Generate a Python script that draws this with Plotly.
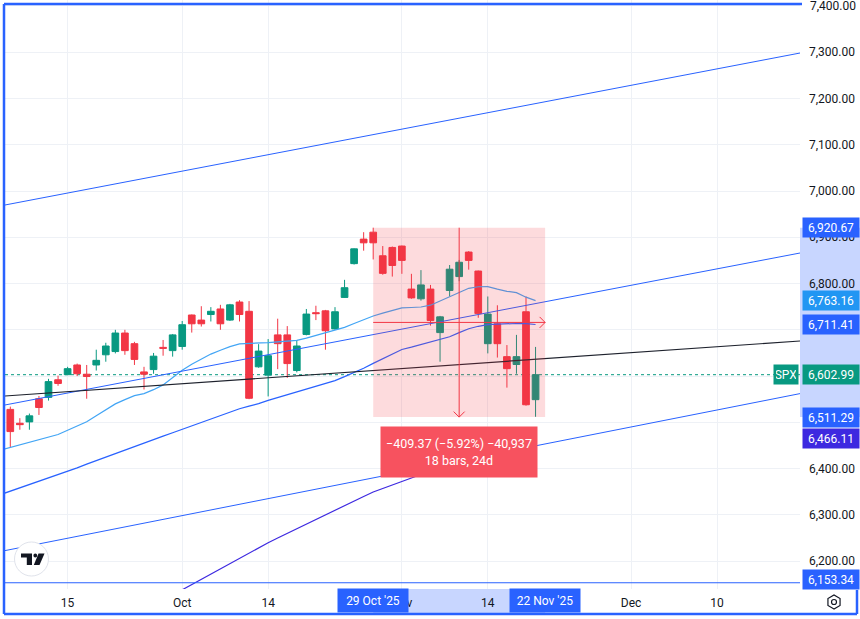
import math
import plotly.graph_objects as go

# ---------------- data (daily bars, SPX) ----------------
dates = ["Sep 5", "Sep 8", "Sep 9", "Sep 10", "Sep 11", "Sep 12", "Sep 15", "Sep 16", "Sep 17", "Sep 18",
         "Sep 19", "Sep 22", "Sep 23", "Sep 24", "Sep 25", "Sep 26", "Sep 29", "Sep 30", "Oct 1", "Oct 2",
         "Oct 3", "Oct 6", "Oct 7", "Oct 8", "Oct 9", "Oct 10", "Oct 13", "Oct 14", "Oct 15", "Oct 16",
         "Oct 17", "Oct 20", "Oct 21", "Oct 22", "Oct 23", "Oct 24", "Oct 27", "Oct 28", "Oct 29", "Oct 30",
         "Oct 31", "Nov 3", "Nov 4", "Nov 5", "Nov 6", "Nov 7", "Nov 10", "Nov 11", "Nov 12", "Nov 13",
         "Nov 14", "Nov 17", "Nov 18", "Nov 19", "Nov 20", "Nov 21"]
opens = [6528, 6498, 6501, 6551, 6554, 6592, 6603, 6624, 6604, 6624,
         6646, 6653, 6693, 6670, 6609, 6614, 6662, 6655, 6664, 6732,
         6721, 6733, 6745, 6721, 6760, 6740, 6620, 6602, 6689, 6689,
         6612, 6690, 6737, 6741, 6702, 6770, 6843, 6896, 6911, 6860,
         6878, 6881, 6788, 6767, 6788, 6694, 6785, 6815, 6868, 6827,
         6670, 6713, 6642, 6625, 6739, 6549]
highs = [6534, 6509, 6519, 6557, 6594, 6601, 6620, 6627, 6624, 6657,
         6672, 6700, 6700, 6674, 6620, 6650, 6678, 6691, 6719, 6733,
         6751, 6749, 6754, 6756, 6764, 6762, 6669, 6680, 6724, 6708,
         6678, 6745, 6752, 6743, 6749, 6808, 6876, 6911, 6920.67, 6881,
         6880, 6882, 6821, 6829, 6797, 6730, 6840, 6851, 6870, 6828,
         6772, 6753, 6667, 6689, 6772, 6663]
lows = [6446, 6484, 6484, 6516, 6547, 6579, 6602, 6600, 6551, 6612,
        6631, 6649, 6646, 6624, 6571, 6605, 6644, 6642, 6657, 6694,
        6707, 6718, 6700, 6719, 6718, 6550, 6618, 6556, 6615, 6596,
        6608, 6688, 6721, 6657, 6700, 6769, 6841, 6871, 6852, 6819,
        6815, 6821, 6767, 6763, 6709, 6631, 6772, 6805, 6830, 6726,
        6649, 6640, 6575, 6605, 6536, 6512]
closes = [6480, 6495, 6514, 6532, 6588, 6584, 6616, 6605, 6599, 6634,
          6665, 6693, 6655, 6636, 6604, 6643, 6660, 6689, 6711, 6713,
          6713, 6740, 6713, 6754, 6733, 6552, 6654, 6644, 6670, 6627,
          6665, 6734, 6735, 6698, 6739, 6791, 6875, 6888, 6888, 6822,
          6839, 6850, 6769, 6797, 6720, 6728, 6831, 6846, 6850, 6735,
          6734, 6670, 6616, 6642, 6538, 6602.99]
bar_idx = list(range(len(dates)))

# moving averages, first value is the bar before Sep 5
ma_fast = [6440.0, 6445.4, 6450.8, 6456.2, 6461.9, 6467.5, 6473.8, 6482.8, 6491.9, 6501.2,
           6514.2, 6527.6, 6539.9, 6549.2, 6557.6, 6562.1, 6570.6, 6580.9, 6596.7, 6612.5,
           6625.7, 6636.5, 6647.5, 6655.9, 6663.7, 6669.6, 6670.2, 6670.9, 6672.4, 6674.1,
           6675.6, 6677.3, 6681.9, 6687.5, 6693.3, 6699.2, 6705.2, 6713.6, 6722.1, 6729.8,
           6735.9, 6742.2, 6747.4, 6748.2, 6749.3, 6753.2, 6762.3, 6771.1, 6780.4, 6789.7,
           6793.0, 6793.2, 6787.8, 6783.2, 6780.4, 6770.5, 6763.16]
ma_mid = [6344.1, 6351.2, 6358.3, 6365.5, 6372.6, 6379.5, 6386.7, 6393.8, 6401.6, 6409.6,
          6417.3, 6425.1, 6432.9, 6440.7, 6448.5, 6455.6, 6462.7, 6470.1, 6477.6, 6485.2,
          6492.6, 6500.1, 6507.5, 6514.8, 6522.4, 6529.3, 6534.9, 6540.3, 6547.4, 6553.7,
          6559.8, 6565.8, 6571.9, 6578.1, 6584.2, 6590.2, 6598.7, 6607.5, 6617.0, 6627.4,
          6637.8, 6647.9, 6657.4, 6662.4, 6667.6, 6673.0, 6678.8, 6684.9, 6693.8, 6702.2,
          6707.6, 6711.1, 6712.3, 6713.6, 6713.6, 6713.2, 6711.41]
ma_idx = list(range(-1, len(dates)))
ma_slow = [6126.7, 6138.1, 6149.6, 6161.0, 6172.5, 6183.9, 6195.4, 6206.6, 6218.1, 6229.5,
           6239.9, 6250.1, 6260.2, 6270.4, 6280.3, 6290.5, 6300.6, 6310.8, 6320.5, 6330.0,
           6339.8, 6349.5, 6357.3, 6365.3, 6373.0, 6381.0, 6387.9, 6394.9, 6401.6, 6408.7,
           6415.4, 6422.1, 6428.8, 6435.5, 6441.8, 6447.8, 6453.9, 6460.1, 6466.11]
ma_slow_idx = list(range(len(dates) - len(ma_slow), len(dates)))

# axis ticks
tick_idx = [6, 18, 27, 41, 50, 65, 74]
tick_text = ["15", "Oct", "14", "Nov", "14", "Dec", "10"]
price_ticks = list(range(6200, 7401, 100))
hidden_price_ticks = [6500, 6600, 6700]   # covered by price labels in the reference
top_tick = 7400

# drawings
trend_x = [-2, 85]
trend_top = [6964.0, 7307.3]
trend_mid = [6531.8, 6875.1]
trend_low = [6216.9, 6571.5]
trend_black = [6554.9, 6679.1]
hline_price = 6153.34
last_close = closes[-1]

measure_start, measure_end = 38, 56
measure_high, measure_low = 6920.67, 6511.29
measure_text = "\u2212409.37 (\u22125.92%) \u221240,937<br>18 bars, 24d"
start_label, end_label = "29 Oct '25", "22 Nov '25"

# ---------------- layout geometry ----------------
W, H = 860, 619
ML, MR, MT, MB = 5, 60, 0, 30
PW, PH = W - ML - MR, H - MT - MB
XR = [-0.555, 82.69]
YR = [6139.8, 7412.8]
px_idx = PW / (XR[1] - XR[0])
px_pt = PH / (YR[1] - YR[0])


def fx(px):
    return (px - ML) / PW


def fy(py):
    return (PH + MT - py) / PH


UP, DOWN = "#089981", "#f23645"
BLUE = "#2962ff"
INK = "#131722"
FONT = "Roboto, Arial, sans-serif"

fig = go.Figure()
fig.add_trace(go.Candlestick(
    x=bar_idx, open=opens, high=highs, low=lows, close=closes, text=dates,
    increasing=dict(line=dict(color=UP, width=1), fillcolor=UP),
    decreasing=dict(line=dict(color=DOWN, width=1), fillcolor=DOWN),
    whiskerwidth=0, showlegend=False, hoverinfo="skip"))

fig.add_trace(go.Scatter(x=ma_idx, y=ma_fast, mode="lines",
                         line=dict(color="#42a5f5", width=1.2), showlegend=False, hoverinfo="skip"))
fig.add_trace(go.Scatter(x=ma_idx, y=ma_mid, mode="lines",
                         line=dict(color=BLUE, width=1.2), showlegend=False, hoverinfo="skip"))
fig.add_trace(go.Scatter(x=ma_slow_idx, y=ma_slow, mode="lines",
                         line=dict(color="#3d29e0", width=1.2), showlegend=False, hoverinfo="skip"))

for ys, col, w in [(trend_top, BLUE, 1), (trend_mid, BLUE, 1), (trend_low, BLUE, 1),
                   (trend_black, "#1e222d", 1.2)]:
    fig.add_trace(go.Scatter(x=trend_x, y=ys, mode="lines", line=dict(color=col, width=w),
                             showlegend=False, hoverinfo="skip"))

shapes = []
shapes.append(dict(type="line", xref="paper", yref="y", x0=0, x1=1, y0=last_close, y1=last_close,
                   line=dict(color=UP, width=1, dash="dot"), layer="below"))
shapes.append(dict(type="line", xref="paper", yref="y", x0=0, x1=1, y0=hline_price, y1=hline_price,
                   line=dict(color=BLUE, width=1.2), layer="above"))
shapes.append(dict(type="rect", xref="x", yref="y", x0=measure_start, x1=measure_end,
                   y0=measure_low, y1=measure_high, fillcolor="rgba(242,54,69,0.18)",
                   line=dict(width=0), layer="above"))
mid_x = (measure_start + measure_end) / 2
mid_y = (measure_high + measure_low) / 2
ax_ = 5.5 / px_idx
ay_ = 5.5 / px_pt
red_line = dict(color=DOWN, width=1)
shapes.append(dict(type="line", xref="x", yref="y", x0=mid_x, x1=mid_x, y0=measure_high, y1=measure_low,
                   line=red_line, layer="above"))
shapes.append(dict(type="path", xref="x", yref="y",
                   path=f"M{mid_x - ax_},{measure_low + ay_} L{mid_x},{measure_low} L{mid_x + ax_},{measure_low + ay_}",
                   line=red_line, layer="above"))
shapes.append(dict(type="line", xref="x", yref="y", x0=measure_start, x1=measure_end, y0=mid_y, y1=mid_y,
                   line=red_line, layer="above"))
shapes.append(dict(type="path", xref="x", yref="y",
                   path=f"M{measure_end - ax_},{mid_y + ay_} L{measure_end},{mid_y} L{measure_end - ax_},{mid_y - ay_}",
                   line=red_line, layer="above"))
band = "rgba(41,98,255,0.26)"
shapes.append(dict(type="rect", xref="paper", yref="y", x0=1, x1=fx(W), y0=measure_low, y1=measure_high,
                   fillcolor=band, line=dict(width=0), layer="below"))
shapes.append(dict(type="rect", xref="x", yref="paper", x0=measure_start, x1=measure_end,
                   y0=fy(PH + MT), y1=fy(615), fillcolor=band, line=dict(width=0), layer="below"))
fr = dict(color=BLUE, width=2.5)
shapes.append(dict(type="line", xref="paper", yref="paper", x0=fx(4), x1=fx(4), y0=fy(4), y1=fy(614), line=fr))
shapes.append(dict(type="line", xref="paper", yref="paper", x0=fx(4), x1=fx(802), y0=fy(4), y1=fy(4), line=fr))
shapes.append(dict(type="line", xref="paper", yref="paper", x0=fx(4), x1=fx(857), y0=fy(614), y1=fy(614), line=fr))
shapes.append(dict(type="line", xref="paper", yref="paper", x0=fx(857), x1=fx(857), y0=fy(590), y1=fy(614), line=fr))
shapes.append(dict(type="circle", xref="paper", yref="paper", x0=fx(14.5), x1=fx(48.5), y0=fy(542), y1=fy(576),
                   fillcolor="white", line=dict(color="#e0e3eb", width=1), layer="above"))


def poly(pts):
    return "M" + " L".join(f"{fx(a)},{fy(b)}" for a, b in pts) + " Z"


shapes.append(dict(type="path", xref="paper", yref="paper",
                   path=poly([(21, 553.5), (32, 553.5), (32, 565), (26.8, 565), (26.8, 557.6), (21, 557.6)]),
                   fillcolor=INK, line=dict(width=0), layer="above"))
shapes.append(dict(type="circle", xref="paper", yref="paper", x0=fx(33.4), x1=fx(37.2), y0=fy(553.6), y1=fy(557.4),
                   fillcolor=INK, line=dict(width=0), layer="above"))
shapes.append(dict(type="path", xref="paper", yref="paper",
                   path=poly([(38.5, 553.5), (44.5, 553.5), (39.5, 565), (33.8, 565)]),
                   fillcolor=INK, line=dict(width=0), layer="above"))
hexpts = [(834 + 7 * math.cos(math.radians(90 + 60 * k)), 602 + 7 * math.sin(math.radians(90 + 60 * k))) for k in range(6)]
shapes.append(dict(type="path", xref="paper", yref="paper", path=poly(hexpts),
                   line=dict(color=INK, width=1.2)))
shapes.append(dict(type="circle", xref="paper", yref="paper", x0=fx(831.5), x1=fx(836.5), y0=fy(599.5), y1=fy(604.5),
                   line=dict(color=INK, width=1.2)))

annotations = []
annotations.append(dict(xref="paper", yref="y", x=fx(808), y=top_tick, xanchor="left", yanchor="middle",
                        text=f"{top_tick:,.2f}", showarrow=False,
                        font=dict(family=FONT, size=12, color=INK)))
for price, col in [(measure_high, BLUE), (ma_fast[-1], "#2196f3"), (ma_mid[-1], BLUE),
                   (last_close, UP), (measure_low, BLUE), (ma_slow[-1], "#3d29e0"), (hline_price, BLUE)]:
    annotations.append(dict(xref="paper", yref="y", x=fx(802), y=price, xanchor="left", yanchor="middle",
                            text=f"{price:,.2f}", showarrow=False, bgcolor=col, width=52, height=15,
                            borderpad=2, font=dict(family=FONT, size=12, color="white"),
                            yshift=3 if price == hline_price else 0))
annotations.append(dict(xref="paper", yref="y", x=fx(799), y=last_close, xanchor="right", yanchor="middle",
                        text="SPX", showarrow=False, bgcolor=UP, width=20, height=15, borderpad=2,
                        font=dict(family=FONT, size=12, color="white")))
for xi, txt in [(measure_start, start_label), (measure_end, end_label)]:
    annotations.append(dict(xref="x", yref="paper", x=xi, y=fy(600.5), xanchor="center", yanchor="middle",
                            text=txt, showarrow=False, bgcolor=BLUE, width=64, height=17, borderpad=3,
                            font=dict(family=FONT, size=12, color="white")))
annotations.append(dict(xref="x", yref="paper", x=mid_x, y=fy(452), xanchor="center", yanchor="middle",
                        text=measure_text, showarrow=False, bgcolor="#f7525f", width=150, height=44,
                        borderpad=3, font=dict(family=FONT, size=12.5, color="white")))

fig.update_layout(
    width=W, height=H, margin=dict(l=ML, r=MR, t=MT, b=MB),
    paper_bgcolor="white", plot_bgcolor="white",
    boxgap=0.3, boxgroupgap=0,
    shapes=shapes, annotations=annotations, showlegend=False,
    font=dict(family=FONT, size=12, color=INK),
    xaxis=dict(range=XR, tickvals=tick_idx, ticktext=tick_text, showgrid=True, gridcolor="#eef1f6",
               zeroline=False, showline=False, ticks="", rangeslider=dict(visible=False),
               tickfont=dict(family=FONT, size=12, color=INK), ticklabelstandoff=5),
    yaxis=dict(range=YR, side="right", tickvals=price_ticks,
               ticktext=["" if p in hidden_price_ticks else f"{p:,.2f}" for p in price_ticks],
               showgrid=True, gridcolor="#eef1f6", zeroline=False, showline=False, ticks="",
               tickfont=dict(family=FONT, size=12, color=INK), ticklabelstandoff=8),
)

fig.write_html("out.html")
